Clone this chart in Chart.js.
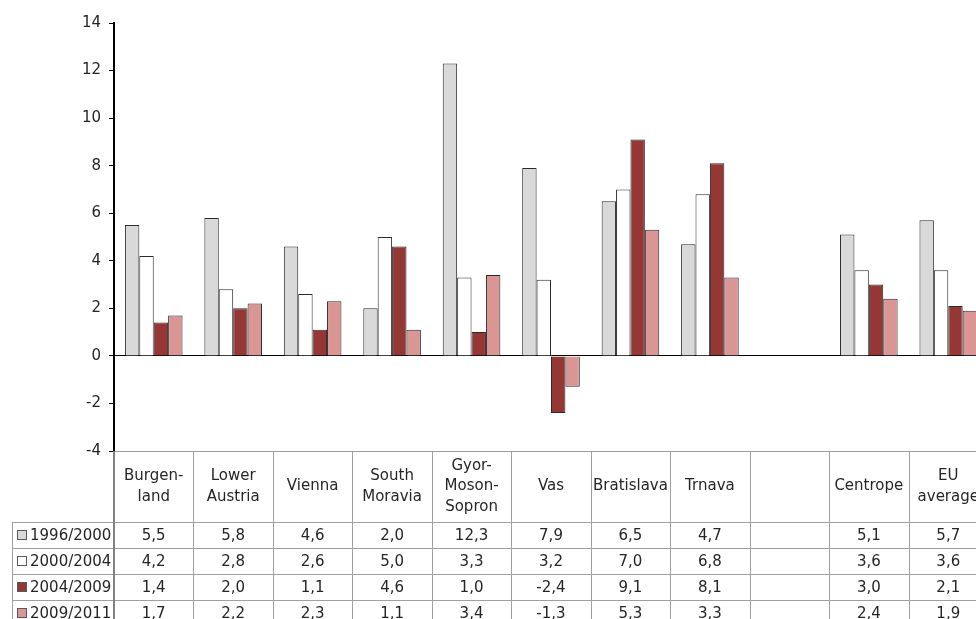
<!DOCTYPE html>
<html>
<head>
<meta charset="utf-8">
<script src="https://cdn.jsdelivr.net/npm/chart.js@4/dist/chart.umd.min.js"></script>
<style>
  html, body { margin: 0; padding: 0; overflow: hidden; background: #fff; }
  #wrap { width: 988px; height: 619px; }
</style>
</head>
<body>
<div id="wrap"><canvas id="c" width="988" height="619"></canvas></div>
<script>
// Regions (multi-line header labels; the empty slot is a spacer column)
const categories = [
  ['Burgen-', 'land'], ['Lower', 'Austria'], ['Vienna'], ['South', 'Moravia'],
  ['Gyor-', 'Moson-', 'Sopron'], ['Vas'], ['Bratislava'], ['Trnava'], [''],
  ['Centrope'], ['EU', 'average']
];
const periods = ['1996/2000', '2000/2004', '2004/2009', '2009/2011'];
const growth1996_2000 = [5.5, 5.8, 4.6, 2.0, 12.3, 7.9, 6.5, 4.7, null, 5.1, 5.7];
const growth2000_2004 = [4.2, 2.8, 2.6, 5.0, 3.3, 3.2, 7.0, 6.8, null, 3.6, 3.6];
const growth2004_2009 = [1.4, 2.0, 1.1, 4.6, 1.0, -2.4, 9.1, 8.1, null, 3.0, 2.1];
const growth2009_2011 = [1.7, 2.2, 2.3, 1.1, 3.4, -1.3, 5.3, 3.3, null, 2.4, 1.9];
const yMin = -4, yMax = 14, yStep = 2;

const seriesValues = [growth1996_2000, growth2000_2004, growth2004_2009, growth2009_2011];
const seriesColors = ['#d9d9d9', '#ffffff', '#953735', '#d99694'];

const FONT = '"DejaVu Sans", sans-serif';
const TEXT = '#262626';

const fmt = v => (v === null || v === undefined) ? '' : v.toFixed(1).replace('.', ',');

// Data table drawn under the plot, aligned to the category scale
const dataTable = {
  id: 'dataTable',
  afterDraw(chart) {
    const { ctx, chartArea: a, scales: { x } } = chart;
    const n = categories.length;
    const cw = (a.right - a.left) / n;
    const top = a.bottom;
    const headBottom = top + 71;
    const rowH = 26;
    const legendLeft = 12;
    const bottom = headBottom + rowH * periods.length;
    ctx.save();

    // horizontal rules
    ctx.strokeStyle = '#a0a0a0';
    ctx.lineWidth = 1;
    ctx.beginPath();
    ctx.moveTo(a.left, Math.round(top) + 0.5);
    ctx.lineTo(a.right, Math.round(top) + 0.5);
    for (let r = 0; r <= periods.length; r++) {
      const y = Math.round(headBottom + r * rowH) + 0.5;
      ctx.moveTo(legendLeft, y);
      ctx.lineTo(a.right, y);
    }
    // vertical rules between columns
    for (let i = 1; i <= n; i++) {
      const xx = Math.round(x.getPixelForValue(i) - cw / 2) + 0.5;
      ctx.moveTo(xx, top);
      ctx.lineTo(xx, bottom);
    }
    ctx.moveTo(legendLeft + 0.5, headBottom);
    ctx.lineTo(legendLeft + 0.5, bottom);
    ctx.stroke();

    ctx.strokeStyle = '#808080';
    ctx.lineWidth = 2;
    ctx.beginPath();
    ctx.moveTo(a.left, top);
    ctx.lineTo(a.left, bottom);
    ctx.stroke();

    // header labels
    ctx.fillStyle = TEXT;
    ctx.font = '15px ' + FONT;
    ctx.textAlign = 'center';
    ctx.textBaseline = 'middle';
    const headMid = (top + headBottom) / 2;
    const lh = 20.5;
    categories.forEach((lines, i) => {
      const cx = x.getPixelForValue(i);
      lines.forEach((t, k) => {
        ctx.fillText(t, cx, headMid + (k - (lines.length - 1) / 2) * lh);
      });
    });

    // value rows with legend keys
    periods.forEach((p, r) => {
      const cy = headBottom + r * rowH + rowH / 2;
      ctx.textAlign = 'center';
      seriesValues[r].forEach((v, i) => {
        ctx.fillText(fmt(v), x.getPixelForValue(i), cy + 1);
      });
      ctx.fillStyle = seriesColors[r];
      ctx.fillRect(17.5, cy - 4, 9, 9);
      ctx.strokeStyle = '#595959';
      ctx.lineWidth = 1;
      ctx.strokeRect(17.5, cy - 4.5, 9, 9);
      ctx.fillStyle = TEXT;
      ctx.textAlign = 'left';
      ctx.fillText(p, 30, cy + 1);
    });
    ctx.restore();
  }
};

new Chart(document.getElementById('c'), {
  type: 'bar',
  data: {
    labels: categories,
    datasets: periods.map((p, i) => ({
      label: p,
      data: seriesValues[i],
      backgroundColor: seriesColors[i],
      borderColor: '#2b2b2b',
      borderWidth: 1,
      barPercentage: 1.0,
      categoryPercentage: 0.725
    }))
  },
  options: {
    responsive: false,
    animation: false,
    layout: { padding: { top: 23, right: 0, bottom: 168, left: 0 } },
    plugins: { legend: { display: false }, tooltip: { enabled: false } },
    scales: {
      x: { display: false },
      y: {
        min: yMin,
        max: yMax,
        afterFit(scale) { scale.width = 114; },
        ticks: {
          stepSize: yStep,
          color: TEXT,
          font: { family: FONT, size: 15 },
          padding: 8
        },
        grid: {
          drawOnChartArea: true,
          color: ctx => (ctx.tick && ctx.tick.value === 0) ? '#000000' : 'rgba(0,0,0,0)',
          tickColor: '#000000',
          tickLength: 5,
          lineWidth: 1
        },
        border: { display: true, color: '#000000', width: 2 }
      }
    }
  },
  plugins: [dataTable]
});
</script>
</body>
</html>
